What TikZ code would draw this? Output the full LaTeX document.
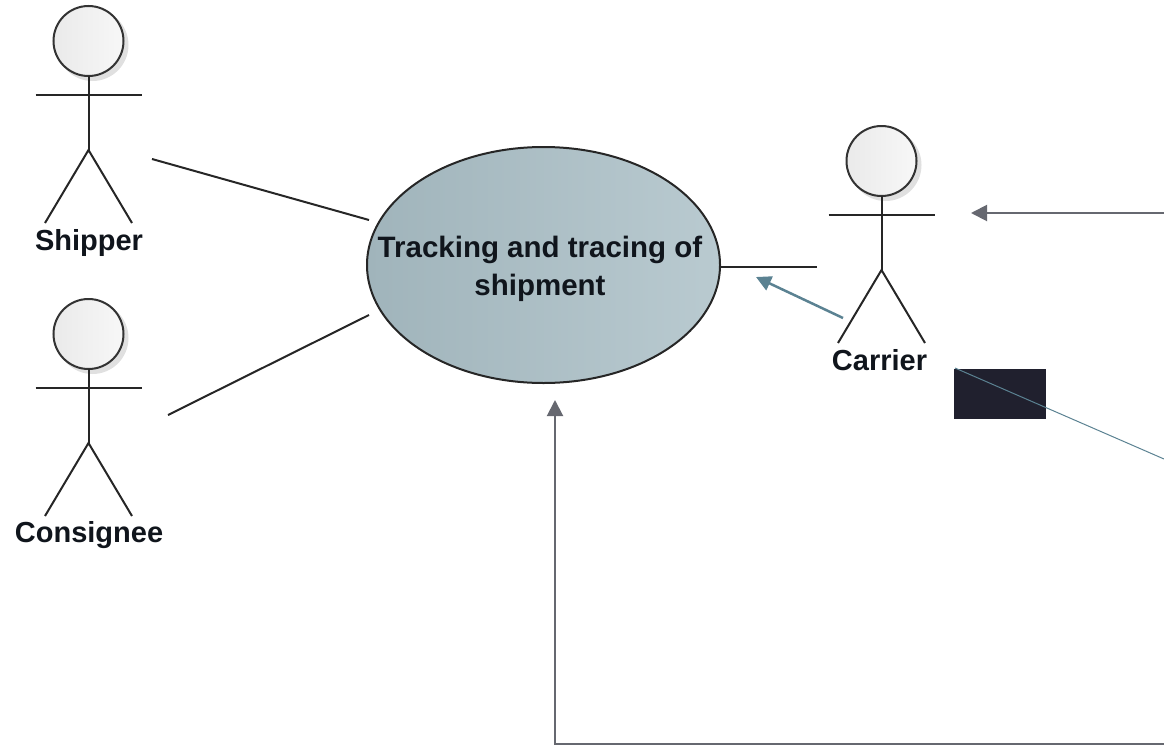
\documentclass[tikz,border=0pt]{standalone}
\usepackage{fontspec}
\setmainfont{Liberation Sans}
\usetikzlibrary{arrows.meta,shapes.geometric}
\definecolor{txt}{HTML}{10151C}
\definecolor{greyarrow}{HTML}{666870}
\definecolor{tealline}{HTML}{5B8292}
\definecolor{darkbox}{HTML}{20202E}
\definecolor{headfill}{HTML}{EAEAEA}
\definecolor{ellL}{HTML}{A0B4BB}
\definecolor{ellR}{HTML}{B9CAD0}
\tikzset{
  x=1pt,y=-1pt,
  stick/.style={draw=black!85,line width=2pt},
  lbl/.style={font=\bfseries\fontsize{29}{36}\selectfont,text=txt,inner sep=0pt,align=center},
  arrowgrey/.style={draw=greyarrow,line width=2pt,-{Triangle[length=16pt,width=16pt]}},
  arrowteal/.style={draw=tealline,line width=2.5pt,-{Triangle[length=15pt,width=15pt]}},
  plainline/.style={draw=black!85,line width=2pt},
  headshadow/.style={circle,minimum size=72pt,inner sep=0pt,fill=black,opacity=0.12},
  headcircle/.style={circle,minimum size=70pt,inner sep=0pt,draw=black!80,line width=2pt,left color=headfill,right color=white!97!black}
}
\newcommand{\actor}[3]{%
  \node[headshadow] (#3s) at (#1+4,#2+4) {};
  \node[headcircle] (#3h) at (#1,#2) {};
  \coordinate (#3n) at (#1,#2+35);
  \coordinate (#3c) at (#1,#2+109);
  \draw[stick] (#3n) -- (#3c);
  \draw[stick] (#1-53,#2+54) -- (#1+53,#2+54);
  \draw[stick] (#1-43.5,#2+182) -- (#3c) -- (#1+43.5,#2+182);
}
\begin{document}
\begin{tikzpicture}
\useasboundingbox (0,0) rectangle (1164,747);
\actor{88.5}{41}{s}
\actor{88.5}{334}{c}
\actor{881.5}{161}{k}
\node[lbl,anchor=base] (shipper) at (89,250) {Shipper};
\node[lbl,anchor=base] (consignee) at (89,542) {Consignee};
\node[lbl,anchor=base] (carrier) at (879.5,370) {Carrier};
\node[ellipse,minimum width=353pt,minimum height=236pt,inner sep=0pt,draw=black!85,line width=2pt,left color=ellL,right color=ellR] (uc) at (543.5,265) {};
\node[lbl,font=\bfseries\fontsize{29.5}{38}\selectfont] (uct) at (540,269) {Tracking and tracing of\\shipment};
\node[fill=darkbox,inner sep=0pt,minimum width=92pt,minimum height=50pt] (box) at (1000,394) {};
\coordinate (sa) at (152,159); \coordinate (sb) at (369,220);
\coordinate (ca) at (168,415); \coordinate (cb) at (369,315);
\coordinate (ka) at (720,266.5); \coordinate (kb) at (817,266.5);
\draw[plainline] (sa) -- (sb);
\draw[plainline] (ca) -- (cb);
\draw[plainline] (ka) -- (kb);
\coordinate (e1) at (1164,213); \coordinate (e2) at (971,213);
\draw[arrowgrey] (e1) -- (e2);
\coordinate (t1) at (843,318); \coordinate (t2) at (756,277);
\draw[arrowteal] (t1) -- (t2);
\coordinate (l1) at (955,368); \coordinate (l2) at (1164,459);
\draw[draw=tealline,line width=1pt] (l1) -- (l2);
\coordinate (b1) at (1164,744); \coordinate (b2) at (555,744); \coordinate (b3) at (555,400);
\draw[arrowgrey] (b1) -- (b2) -- (b3);
\end{tikzpicture}
\end{document}
